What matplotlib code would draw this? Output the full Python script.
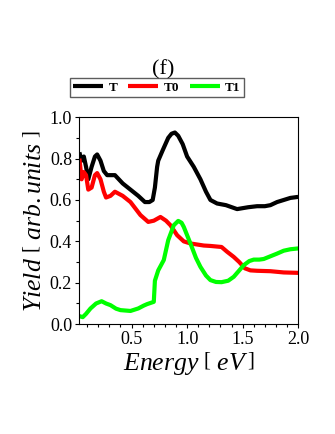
import matplotlib
matplotlib.use("Agg")
import matplotlib.pyplot as plt
from matplotlib.ticker import MultipleLocator

plt.rcParams["font.family"] = ["Liberation Serif", "DejaVu Serif"]
plt.rcParams["mathtext.fontset"] = "custom"
plt.rcParams["mathtext.rm"] = "Liberation Serif"
plt.rcParams["mathtext.it"] = "Liberation Serif:italic"

# ---- data --------------------------------------------------------------- #
t_x = [0.03, 0.05, 0.07, 0.09, 0.11, 0.14, 0.17, 0.19, 0.22, 0.25, 0.28, 0.35,
       0.42, 0.49, 0.56, 0.62, 0.66, 0.69, 0.71, 0.73, 0.74, 0.78, 0.83, 0.86,
       0.89, 0.92, 0.96, 1.00, 1.06, 1.12, 1.17, 1.21, 1.27, 1.35, 1.45, 1.55,
       1.63, 1.70, 1.75, 1.81, 1.87, 1.93, 2.00]
t_y = [0.83, 0.79, 0.81, 0.76, 0.70, 0.76, 0.81, 0.82, 0.79, 0.74, 0.72, 0.72,
       0.68, 0.65, 0.62, 0.59, 0.59, 0.60, 0.66, 0.76, 0.79, 0.84, 0.90, 0.92,
       0.926, 0.91, 0.87, 0.81, 0.76, 0.70, 0.64, 0.60, 0.583, 0.575, 0.556,
       0.565, 0.57, 0.57, 0.575, 0.59, 0.60, 0.61, 0.615]

t0_x = [0.03, 0.05, 0.07, 0.09, 0.11, 0.14, 0.17, 0.19, 0.22, 0.25, 0.27, 0.31,
        0.35, 0.42, 0.49, 0.58, 0.65, 0.70, 0.76, 0.81, 0.85, 0.91, 0.97, 1.03,
        1.09, 1.15, 1.21, 1.27, 1.31, 1.36, 1.42, 1.47, 1.52, 1.57, 1.63, 1.75,
        1.87, 2.00]
t0_y = [0.80, 0.70, 0.735, 0.72, 0.65, 0.66, 0.72, 0.73, 0.70, 0.64, 0.612, 0.62,
        0.64, 0.62, 0.59, 0.527, 0.494, 0.50, 0.518, 0.50, 0.478, 0.43, 0.40, 0.39,
        0.385, 0.38, 0.378, 0.375, 0.373, 0.35, 0.325, 0.30, 0.27, 0.26, 0.258, 0.256,
        0.25, 0.248]

t1_x = [0.03, 0.06, 0.09, 0.13, 0.18, 0.23, 0.27, 0.31, 0.36, 0.40, 0.49, 0.56,
        0.61, 0.64, 0.70, 0.71, 0.74, 0.79, 0.83, 0.88, 0.92, 0.95, 0.97, 1.03,
        1.08, 1.12, 1.17, 1.21, 1.26, 1.31, 1.37, 1.42, 1.47, 1.51, 1.56, 1.60,
        1.65, 1.69, 1.75, 1.81, 1.87, 1.93, 2.00]
t1_y = [0.039, 0.034, 0.05, 0.076, 0.10, 0.111, 0.10, 0.092, 0.075, 0.068, 0.064, 0.076,
        0.09, 0.097, 0.108, 0.21, 0.26, 0.31, 0.406, 0.478, 0.499, 0.49, 0.47, 0.39,
        0.32, 0.277, 0.235, 0.213, 0.204, 0.203, 0.21, 0.229, 0.26, 0.285, 0.305, 0.312,
        0.312, 0.315, 0.328, 0.341, 0.355, 0.362, 0.366]

series = [("T", t_x, t_y, "#000000"),
          ("T0", t0_x, t0_y, "#ff0000"),
          ("T1", t1_x, t1_y, "#00ff00")]

x_ticks = [0.5, 1.0, 1.5, 2.0]
y_ticks = [0.0, 0.2, 0.4, 0.6, 0.8, 1.0]

# ---- figure --------------------------------------------------------------- #
fig = plt.figure(figsize=(3.35, 4.34), dpi=100)
ax = fig.add_axes([0.236, 0.253, 0.654, 0.477])

for name, xs, ys, col in series:
    ax.plot(xs, ys, color=col, lw=3.0, label=name,
            solid_joinstyle="round", solid_capstyle="butt")

ax.set_xlim(0.027, 2.0)
ax.set_ylim(0.0, 1.0)
ax.set_xticks(x_ticks)
ax.set_yticks(y_ticks)
ax.set_xticklabels([f"{v:.1f}" for v in x_ticks])
ax.set_yticklabels([f"{v:.1f}" for v in y_ticks])
ax.xaxis.set_minor_locator(MultipleLocator(0.1))
ax.yaxis.set_minor_locator(MultipleLocator(0.1))
ax.tick_params(which="major", direction="out", length=3, width=0.8,
               labelsize=13, pad=2, top=False, right=False)
ax.tick_params(which="minor", direction="out", length=2, width=0.8,
               top=False, right=False)
for s in ax.spines.values():
    s.set_linewidth(0.8)

ax.set_xlabel(r"$Energy\ \left[\ eV\,\right]$", fontsize=18.5, labelpad=1)
ax.set_ylabel(r"$Yield\ \left[\ arb.units\ \right]$", fontsize=18.5, labelpad=3)

leg = ax.legend(loc="center", bbox_to_anchor=(0.468, 0.798), bbox_transform=fig.transFigure,
                ncol=3, frameon=True, fancybox=False, handlelength=2.3,
                handletextpad=0.4, columnspacing=0.8, borderpad=0.25,
                prop={"weight": "bold", "size": 9.5})
leg.get_frame().set_edgecolor("#333333")
leg.get_frame().set_linewidth(1.0)

fig.text(0.487, 0.839, "(f)", ha="center", va="center", fontsize=16)

fig.savefig("out.png", dpi=100)
